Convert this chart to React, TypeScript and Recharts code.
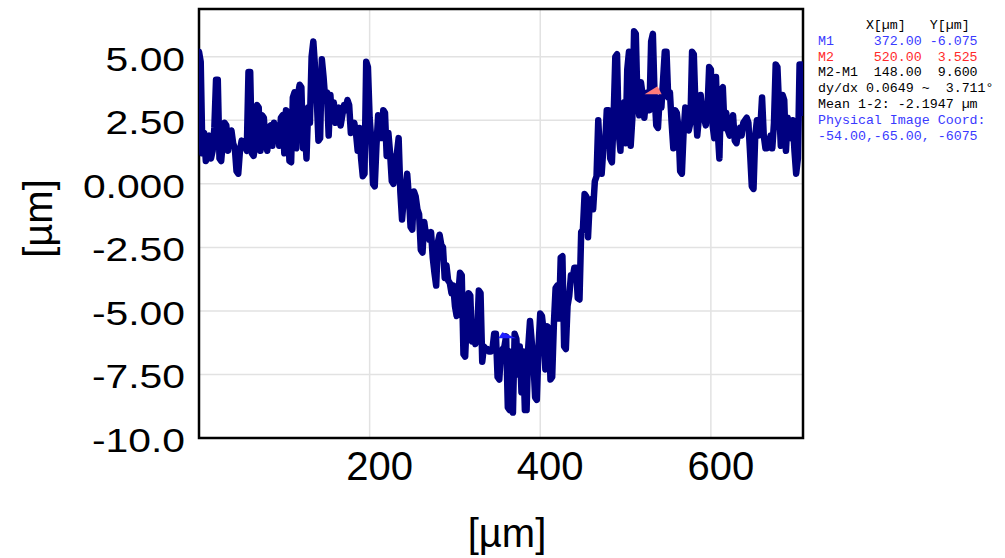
import React from "react";
import {
  ComposedChart,
  Line,
  Scatter,
  XAxis,
  YAxis,
  CartesianGrid,
  ReferenceArea,
} from "recharts";

// profile sampled every 2 µm from x = 0
const SAMPLE_STEP_UM = 2;

// heights [µm], one row = 20 µm
const heights = [
  5.2, 4.8, 1.2, 2.0, 0.9, 1.6, 1.9, 1.0, 1.3, 2.2,
  4.1, 4.1, 1.0, 0.9, 1.7, 2.4, 2.3, 1.3, 1.8, 2.1,
  1.6, 1.4, 0.5, 0.4, 1.3, 1.7, 1.6, 1.5, 1.3, 4.4,
  4.4, 1.2, 1.1, 1.5, 3.1, 3.0, 1.3, 2.7, 2.6, 1.6,
  1.3, 2.2, 2.3, 1.5, 2.4, 1.8, 2.3, 1.5, 2.6, 2.7,
  1.2, 2.9, 2.8, 0.9, 0.85, 3.4, 3.6, 1.4, 3.5, 3.9,
  3.8, 1.4, 2.2, 1.0, 3.0, 2.4, 5.0, 5.6, 4.6, 3.4,
  1.7, 1.8, 4.9, 4.2, 3.3, 3.6, 1.9, 3.5, 2.5, 3.2,
  2.4, 2.6, 3.0, 2.3, 2.7, 3.1, 2.9, 3.3, 3.1, 2.0,
  2.2, 2.4, 2.0, 1.3, 2.2, 1.0, 0.3, 0.4, 4.8, 4.6,
  2.6, 1.7, 0.0, -0.1, 1.5, 2.7, 2.6, 1.8, 2.9, 2.8,
  1.1, 2.0, 1.2, 0.1, 0.0, 1.0, 1.2, 1.8, -0.3, -1.4,
  -0.6, -0.2, 0.4, -0.5, -1.7, -1.8, -0.3, -0.5, -1.0, -1.2,
  -2.6, -2.7, -1.5, -2.0, -1.9, -2.2, -1.9, -2.9, -3.5, -4.0,
  -2.3, -2.0, -2.4, -2.5, -3.7, -3.2, -3.8, -3.9, -4.3, -4.0,
  -4.8, -5.2, -4.3, -3.5, -3.6, -6.7, -6.8, -5.2, -4.3, -4.4,
  -6.2, -5.8, -6.3, -5.9, -4.2, -4.3, -7.0, -6.4, -6.5, -6.5,
  -6.6, -6.6, -6.5, -5.9, -5.9, -7.6, -7.7, -6.6, -6.5, -6.4,
  -6.0, -8.8, -8.9, -6.6, -9.0, -5.9, -6.1, -7.5, -6.4, -8.2,
  -6.6, -8.9, -8.9, -6.4, -5.4, -6.2, -7.0, -8.4, -8.5, -6.4,
  -5.1, -5.2, -5.8, -7.3, -5.6, -5.7, -7.7, -7.6, -5.5, -4.1,
  -4.0, -5.3, -2.9, -2.85, -6.4, -6.5, -4.8, -4.4, -3.6, -3.7,
  -3.3, -3.3, -4.5, -4.55, -1.9, -1.8, -0.4, -0.5, -2.1, -0.7,
  -0.6, -1.0, 0.1, 0.3, 2.5, 1.2, 0.4, 1.4, 1.5, 2.9,
  2.9, 1.0, 0.85, 2.6, 5.0, 5.1, 2.0, 1.3, 3.1, 3.2,
  1.6, 4.5, 5.2, 1.5, 2.6, 6.0, 5.9, 3.2, 2.7, 4.0,
  3.5, 2.6, 3.3, 3.6, 2.9, 5.6, 5.9, 3.5, 2.3, 2.2,
  3.4, 3.0, 4.1, 5.2, 5.2, 3.4, 3.6, 2.4, 1.4, 2.9,
  2.8, 2.2, 0.5, 0.4, 2.0, 3.0, 2.5, 2.1, 2.4, 5.2,
  5.1, 3.0, 1.9, 2.6, 3.5, 2.8, 2.6, 2.3, 2.9, 4.6,
  4.5, 2.3, 1.8, 4.2, 2.1, 1.0, 3.7, 3.8, 2.2, 2.8,
  2.1, 1.9, 2.1, 2.7, 1.7, 1.6, 2.0, 2.2, 1.9, 2.4,
  2.5, 2.6, 2.4, 1.2, -0.1, -0.2, 1.9, 2.5, 1.9, 2.2,
  3.4, 1.9, 1.4, 1.4, 1.5, 1.9, 1.4, 2.4, 4.7, 4.6,
  3.0, 1.5, 3.5, 3.3, 1.3, 2.6, 2.0, 1.8, 2.5, 1.3,
  0.4, 1.0, 4.7, 4.7, 2.8,
];

const markerNames = ["M1", "M2"];
const markerX = [372, 520];
const markerY = [-6.075, 3.525];
const markerColors = ["#1f1fff", "#ff7a7a"];

const xTicks = [200, 400, 600];
const yTicks = [-10, -7.5, -5, -2.5, 0, 2.5, 5];
const yTickLabels = ["-10.0", "-7.50", "-5.00", "-2.50", "0.000", "2.50", "5.00"];

const X_DOMAIN: [number, number] = [0, 708];
const Y_DOMAIN: [number, number] = [-10, 6.88];

const readout = [
  { text: "      X[µm]   Y[µm]", color: "#000" },
  { text: "M1     372.00 -6.075", color: "#3a3aff" },
  { text: "M2     520.00  3.525", color: "#ff2a2a" },
  { text: "M2-M1  148.00  9.600", color: "#000" },
  { text: "dy/dx 0.0649 ~  3.711°", color: "#000" },
  { text: "Mean 1-2: -2.1947 µm", color: "#000" },
  { text: "Physical Image Coord:", color: "#3a3aff" },
  { text: "-54.00,-65.00, -6075", color: "#3a3aff" },
];

const profile = heights.map((h, i) => ({ x: i * SAMPLE_STEP_UM, y: h }));
const markers = markerNames.map((name, i) => ({
  name,
  x: markerX[i],
  y: markerY[i],
  color: markerColors[i],
}));

const FONT = '"Liberation Sans", Arial, sans-serif';

function XTick(props: any) {
  const { x, y, payload } = props;
  return (
    <text x={x + 10} y={y + 42} textAnchor="middle" fontSize={40} fontFamily={FONT} fill="#000">
      {payload.value}
    </text>
  );
}

function YTick(props: any) {
  const { x, y, payload } = props;
  const idx = yTicks.indexOf(payload.value);
  const label = idx >= 0 ? yTickLabels[idx] : String(payload.value);
  return (
    <g transform={`translate(${x - 14},${y + 14}) scale(1.2,1)`}>
      <text x={0} y={0} textAnchor="end" fontSize={34} fontFamily={FONT} fill="#000">
        {label}
      </text>
    </g>
  );
}

function XTitle(props: any) {
  const { x, y, width } = props.viewBox;
  return (
    <text x={x + width / 2 + 6} y={y + 109} textAnchor="middle" fontSize={40} fontFamily={FONT} fill="#000">
      [µm]
    </text>
  );
}

function YTitle(props: any) {
  const { x, y, height } = props.viewBox;
  return (
    <text
      transform={`translate(${x + 52},${y + height / 2 - 5}) rotate(-90)`}
      textAnchor="middle"
      fontSize={40}
      fontFamily={FONT}
      fill="#000"
    >
      [µm]
    </text>
  );
}

// little flag drawn at each cursor marker
function MarkerFlag(props: any) {
  const { cx, cy, payload } = props;
  const pts =
    payload.name === "M1"
      ? `${cx},${cy} ${cx - 18},${cy} ${cx - 14},${cy - 6}`
      : `${cx + 2},${cy} ${cx + 19},${cy} ${cx + 15},${cy - 8}`;
  return <polygon points={pts} fill={payload.color} />;
}

export default function App() {
  return (
    <div style={{ position: "absolute", left: 0, top: 0, width: 1005, height: 558, background: "#fff" }}>
      <ComposedChart width={1005} height={558} margin={{ top: 9, right: 202, bottom: 0, left: 0 }}>
        <CartesianGrid stroke="#e2e2e2" strokeWidth={1.5} />
        <XAxis
          dataKey="x"
          type="number"
          domain={X_DOMAIN}
          ticks={xTicks}
          allowDataOverflow
          height={120}
          tickLine={false}
          axisLine={false}
          tickSize={0}
          tickMargin={0}
          tick={<XTick />}
          label={<XTitle />}
        />
        <YAxis
          dataKey="y"
          type="number"
          domain={Y_DOMAIN}
          ticks={yTicks}
          allowDataOverflow
          width={199}
          tickLine={false}
          axisLine={false}
          tickSize={0}
          tickMargin={0}
          tick={<YTick />}
          label={<YTitle />}
        />
        <Line
          data={profile}
          dataKey="y"
          type="linear"
          stroke="#000080"
          strokeWidth={6.5}
          strokeLinejoin="round"
          strokeLinecap="round"
          dot={false}
          activeDot={false}
          isAnimationActive={false}
        />
        <Scatter data={markers} dataKey="y" shape={<MarkerFlag />} isAnimationActive={false} />
        <ReferenceArea
          x1={X_DOMAIN[0]}
          x2={X_DOMAIN[1]}
          y1={Y_DOMAIN[0]}
          y2={Y_DOMAIN[1]}
          fill="none"
          stroke="#000"
          strokeWidth={2.5}
        />
      </ComposedChart>
      <div
        style={{
          position: "absolute",
          left: 818,
          top: 18,
          fontFamily: '"Liberation Mono", "Courier New", monospace',
          fontSize: 13.3,
          lineHeight: "15.8px",
          whiteSpace: "pre",
        }}
      >
        {readout.map((r, i) => (
          <div key={i} style={{ color: r.color }}>
            {r.text}
          </div>
        ))}
      </div>
    </div>
  );
}
